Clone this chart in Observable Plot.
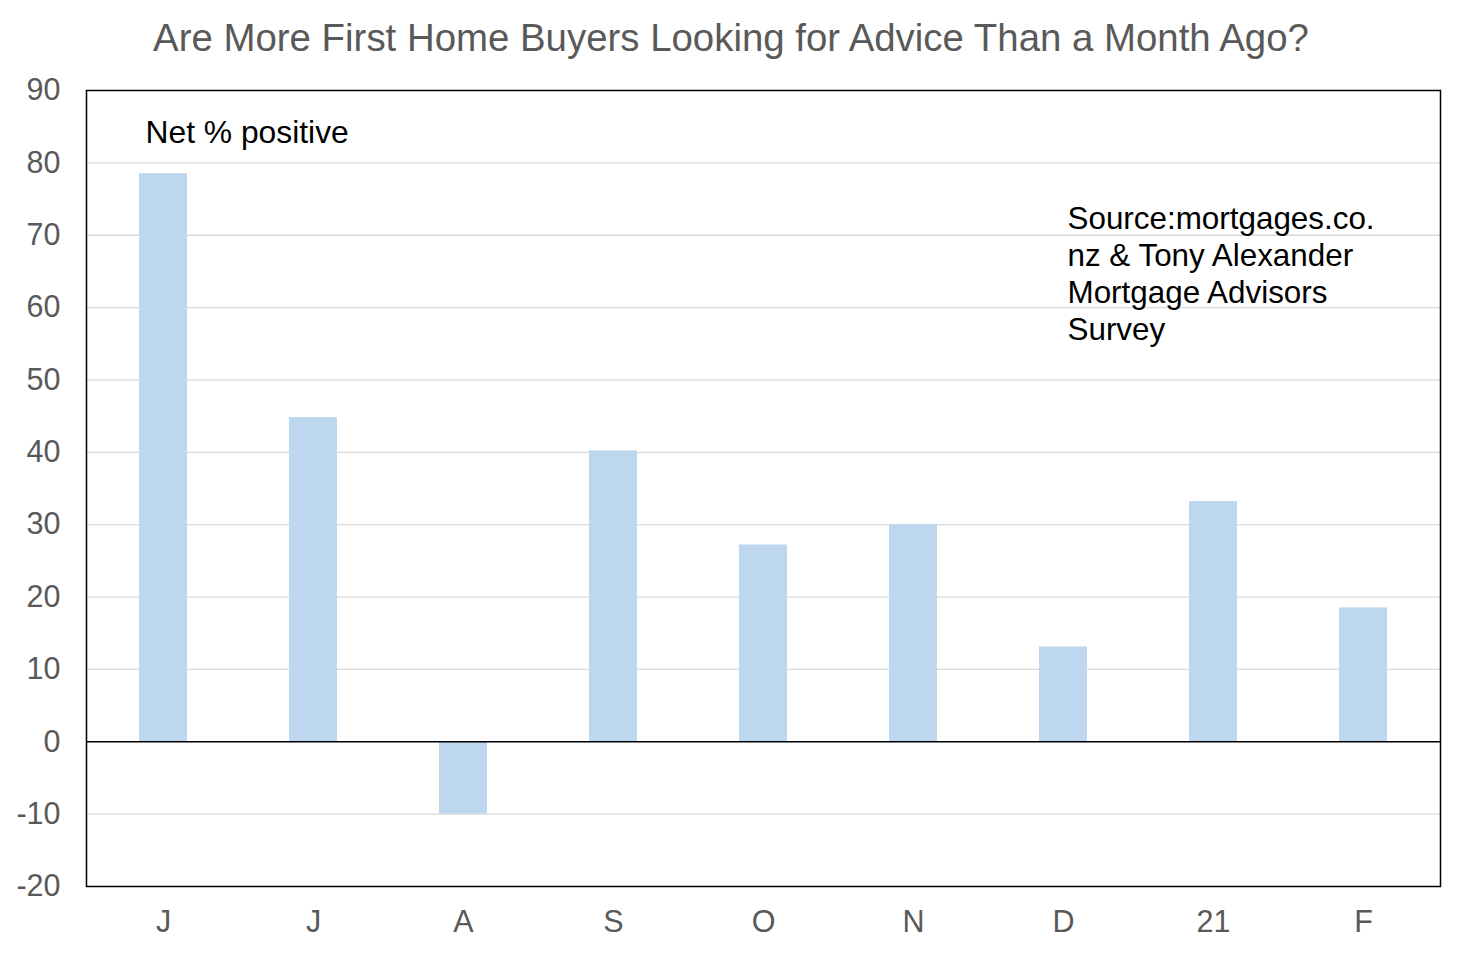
<!DOCTYPE html>
<html>
<head>
<meta charset="utf-8">
<script src="https://cdn.jsdelivr.net/npm/d3@7"></script>
<script src="https://cdn.jsdelivr.net/npm/@observablehq/plot@0.6"></script>
<style>
  body { margin: 0; background: #fff; font-family: "Liberation Sans", Arial, sans-serif; }
  #title { height: 70px; line-height: 76px; text-align: center; font-size: 38.4px; color: #595959; width: 1462px; box-sizing: border-box; }
</style>
</head>
<body>
<div id="title">Are More First Home Buyers Looking for Advice Than a Month Ago?</div>
<div id="chart"></div>
<script>
const months = ["J", "J", "A", "S", "O", "N", "D", "21", "F"];
const values = [78.5, 44.8, -10, 40.2, 27.2, 30.0, 13.1, 33.2, 18.5];
const yTicks = [-20, -10, 0, 10, 20, 30, 40, 50, 60, 70, 80, 90];
const noteLabel = "Net % positive";
const sourceLabel = "Source:mortgages.co.\nnz & Tony Alexander\nMortgage Advisors\nSurvey";

const data = months.map((m, i) => ({ i, month: m, value: values[i] }));

const chart = Plot.plot({
  width: 1462,
  height: 884,
  marginTop: 20,
  marginBottom: 68,
  marginLeft: 86,
  marginRight: 22,
  style: { fontFamily: "Liberation Sans, Arial, sans-serif", fontSize: "30.5px", color: "#595959", background: "#fff" },
  x: { type: "band", domain: d3.range(months.length), paddingInner: 0.68, paddingOuter: 0.34, label: null, tickSize: 0, tickPadding: 24, tickFormat: i => months[i] },
  y: { domain: [-20, 90], ticks: yTicks, label: null, tickSize: 0, tickPadding: 26, tickFormat: d => String(d) },
  marks: [
    Plot.gridY(yTicks.filter(t => t !== 0 && t !== 90 && t !== -20), { stroke: "#d9d9d9", strokeOpacity: 1, strokeWidth: 1.3 }),
    Plot.barY(data, { x: "i", y: "value", fill: "#bdd7ee" }),
    Plot.ruleY([0], { stroke: "#000", strokeWidth: 1.5 }),
    Plot.frame({ stroke: "#000", strokeWidth: 1.5 }),
    Plot.text([noteLabel], { frameAnchor: "top-left", text: d => d, dx: 59, dy: 30, lineAnchor: "top", textAnchor: "start", fill: "#000", fontSize: 31.8 }),
    Plot.text([sourceLabel], { frameAnchor: "top-left", text: d => d, dx: 981, dy: 112, lineAnchor: "top", textAnchor: "start", fill: "#000", fontSize: 31.4, lineHeight: 1.18 })
  ]
});
document.getElementById("chart").appendChild(chart);
</script>
</body>
</html>
